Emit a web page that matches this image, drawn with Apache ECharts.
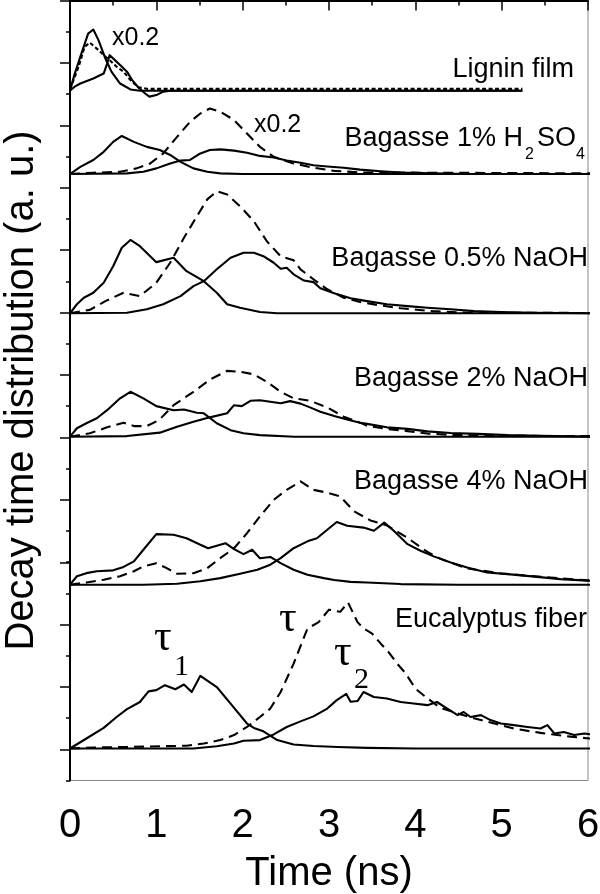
<!DOCTYPE html>
<html><head><meta charset="utf-8">
<script src="https://cdn.jsdelivr.net/npm/echarts@6/dist/echarts.min.js"></script>
<style>html,body{margin:0;padding:0;background:#fff}#c{width:600px;height:894px}</style>
</head><body><div id="c"></div>
<script>
// ---------------- data (time in ns, distribution in a.u.) ----------------
const xTicks = [0, 1, 2, 3, 4, 5, 6];
const panelNames = ['Lignin film', 'Bagasse 1% H2SO4', 'Bagasse 0.5% NaOH', 'Bagasse 2% NaOH', 'Bagasse 4% NaOH', 'Eucalyptus fiber'];

const ligninTau1 = [[0,0],[0.05,0.5],[0.12,1.09],[0.21,1.83],[0.27,1.96],[0.33,1.62],[0.41,1.03],[0.48,0.61],[0.58,0.23],[0.70,0.04],[0.81,0],[5.24,0]];
const ligninTau2 = [[0,0],[0.05,0.12],[0.12,0.23],[0.27,0.39],[0.39,0.55],[0.43,0.87],[0.46,1.14],[0.52,0.98],[0.58,0.82],[0.66,0.61],[0.72,0.34],[0.79,0.11],[0.87,-0.09],[0.92,-0.19],[1.0,-0.14],[1.08,-0.03],[1.16,0],[5.24,0]];
const ligninTau  = [[0,0.05],[0.02,0.11],[0.1,0.77],[0.17,1.41],[0.23,1.54],[0.31,1.35],[0.39,1.14],[0.46,0.98],[0.54,0.77],[0.62,0.61],[0.7,0.34],[0.79,0.11],[0.89,0.06],[5.24,0.06]];

const h2so4Tau1 = [[0,0],[0.12,0.23],[0.27,0.45],[0.39,0.71],[0.5,1.03],[0.6,1.22],[0.74,1.03],[0.89,0.87],[1.04,0.77],[1.16,0.61],[1.28,0.39],[1.43,0.18],[1.59,0.07],[1.74,0.02],[2.0,0],[6.1,0]];
const h2so4Tau2 = [[0,0],[0.66,0.02],[0.85,0.07],[1.0,0.18],[1.16,0.34],[1.28,0.43],[1.39,0.45],[1.51,0.66],[1.62,0.77],[1.74,0.79],[1.9,0.75],[2.05,0.68],[2.2,0.58],[2.36,0.53],[2.51,0.43],[2.67,0.36],[2.82,0.28],[2.98,0.24],[3.17,0.2],[3.36,0.14],[3.6,0.09],[3.83,0.05],[4.2,0.02],[4.6,0],[6.1,0]];
const h2so4Tau  = [[0,0],[0.27,0.04],[0.58,0.07],[0.77,0.18],[0.93,0.34],[1.08,0.66],[1.24,1.19],[1.39,1.67],[1.51,1.94],[1.62,2.1],[1.74,2.0],[1.9,1.73],[2.05,1.3],[2.2,0.87],[2.36,0.55],[2.59,0.34],[2.82,0.2],[3.06,0.1],[3.36,0.05],[6.1,0.02]];

const naoh05Tau1 = [[0,0],[0.08,0.29],[0.16,0.5],[0.27,0.66],[0.39,0.98],[0.5,1.51],[0.6,2.1],[0.7,2.35],[0.81,2.15],[1.0,1.64],[1.2,1.78],[1.35,1.35],[1.55,1.03],[1.7,0.66],[1.82,0.29],[1.97,0.18],[2.2,0.04],[2.4,0],[6.1,0]];
const naoh05Tau2 = [[0,0],[0.66,0.02],[0.89,0.13],[1.08,0.29],[1.28,0.55],[1.43,0.87],[1.55,1.03],[1.7,1.41],[1.86,1.78],[2.01,1.94],[2.13,1.94],[2.24,1.83],[2.36,1.62],[2.44,1.43],[2.51,1.46],[2.59,1.25],[2.71,1.05],[2.82,1.0],[2.9,0.8],[3.06,0.64],[3.25,0.48],[3.44,0.39],[3.67,0.29],[3.91,0.23],[4.14,0.18],[4.41,0.13],[4.68,0.07],[4.99,0.04],[5.38,0.02],[6.1,0]];
const naoh05Tau  = [[0,0],[0.23,0.11],[0.41,0.39],[0.62,0.66],[0.81,0.55],[1.0,0.98],[1.16,1.62],[1.32,2.42],[1.47,3.11],[1.59,3.65],[1.7,3.91],[1.82,3.81],[1.97,3.43],[2.13,2.95],[2.28,2.31],[2.44,1.83],[2.59,1.7],[2.67,1.41],[2.82,1.09],[2.98,0.77],[3.17,0.5],[3.36,0.36],[3.6,0.25],[3.83,0.16],[4.2,0.07],[4.6,0.02],[6.1,0.01]];

const naoh2Tau1 = [[0,0],[0.08,0.27],[0.19,0.43],[0.31,0.59],[0.43,0.85],[0.58,1.23],[0.7,1.44],[0.85,1.23],[1.0,0.98],[1.2,0.85],[1.32,0.87],[1.47,0.77],[1.55,0.75],[1.7,0.43],[1.86,0.21],[2.01,0.11],[2.2,0.05],[2.6,0],[6.1,0]];
const naoh2Tau2 = [[0,0],[0.66,0.02],[1.04,0.13],[1.24,0.32],[1.43,0.48],[1.62,0.62],[1.82,0.75],[1.9,1.01],[1.99,0.98],[2.09,1.15],[2.2,1.17],[2.32,1.12],[2.44,1.07],[2.55,1.14],[2.67,1.06],[2.78,0.94],[2.9,0.8],[3.06,0.66],[3.21,0.55],[3.36,0.45],[3.44,0.41],[3.67,0.3],[3.91,0.25],[4.14,0.17],[4.41,0.12],[4.72,0.09],[5.07,0.05],[5.45,0.03],[6.1,0]];
const naoh2Tau  = [[0,0],[0.23,0.11],[0.43,0.3],[0.62,0.45],[0.74,0.34],[0.89,0.34],[1.03,0.53],[1.2,1.01],[1.43,1.44],[1.62,1.83],[1.82,2.11],[1.97,2.08],[2.13,2.0],[2.28,1.76],[2.44,1.44],[2.59,1.23],[2.78,1.15],[2.98,0.94],[3.17,0.64],[3.36,0.45],[3.44,0.35],[3.67,0.25],[3.91,0.18],[4.14,0.1],[4.41,0.06],[4.8,0.03],[6.1,0.02]];

const naoh4Tau1 = [[0,0],[0.08,0.27],[0.19,0.37],[0.31,0.43],[0.5,0.46],[0.62,0.57],[0.74,0.75],[0.85,1.12],[1.0,1.62],[1.2,1.6],[1.35,1.49],[1.51,1.28],[1.6,1.17],[1.7,1.25],[1.8,1.33],[1.9,1.14],[2.01,0.98],[2.11,1.12],[2.2,0.85],[2.32,0.89],[2.44,0.69],[2.59,0.48],[2.75,0.32],[2.94,0.21],[3.06,0.15],[3.25,0.09],[3.44,0.07],[3.83,0.02],[4.5,0],[6.1,0]];
const naoh4Tau2 = [[0,0],[0.85,0],[1.24,0.03],[1.51,0.11],[1.74,0.21],[1.97,0.35],[2.17,0.48],[2.32,0.64],[2.44,0.85],[2.59,1.17],[2.75,1.39],[2.86,1.49],[2.98,1.76],[3.09,2.01],[3.21,1.89],[3.4,1.83],[3.52,1.73],[3.64,1.99],[3.75,1.73],[3.91,1.3],[4.06,1.09],[4.22,0.9],[4.41,0.71],[4.6,0.55],[4.83,0.39],[5.07,0.34],[5.38,0.26],[5.68,0.18],[5.99,0.13],[6.1,0.12]];
const naoh4Tau  = [[0,0],[0.19,0.07],[0.39,0.16],[0.58,0.27],[0.74,0.43],[0.85,0.59],[1.0,0.69],[1.12,0.53],[1.24,0.35],[1.43,0.37],[1.59,0.53],[1.74,0.85],[1.9,1.17],[2.05,1.65],[2.2,2.19],[2.36,2.72],[2.51,3.04],[2.67,3.31],[2.82,3.04],[2.98,2.95],[3.13,2.83],[3.29,2.35],[3.48,2.06],[3.67,1.9],[3.91,1.5],[4.14,1.05],[4.3,0.82],[4.6,0.52],[5.0,0.36],[5.5,0.24],[6.1,0.12]];

const eucTau1 = [[0,0],[0.19,0.32],[0.39,0.66],[0.54,1.01],[0.66,1.26],[0.81,1.49],[0.91,1.83],[1.0,1.87],[1.1,2.03],[1.22,1.9],[1.32,2.05],[1.41,1.81],[1.51,2.33],[1.7,1.97],[1.86,1.44],[2.05,0.8],[2.13,0.66],[2.24,0.55],[2.4,0.27],[2.59,0.13],[2.82,0.08],[3.1,0.05],[3.44,0.02],[4.0,0],[6.1,0]];
const eucTau2 = [[0,0],[1.43,0],[1.7,0.07],[1.9,0.16],[2.01,0.25],[2.2,0.27],[2.36,0.45],[2.51,0.69],[2.67,0.87],[2.82,1.03],[2.98,1.28],[3.09,1.55],[3.2,1.75],[3.25,1.5],[3.33,1.52],[3.4,1.81],[3.52,1.65],[3.67,1.6],[3.83,1.49],[3.98,1.44],[4.14,1.39],[4.25,1.49],[4.37,1.28],[4.49,1.07],[4.56,1.17],[4.64,1.01],[4.76,1.07],[4.87,0.91],[4.99,0.8],[5.14,0.75],[5.3,0.69],[5.45,0.64],[5.53,0.75],[5.61,0.48],[5.72,0.53],[5.84,0.43],[5.96,0.48],[6.1,0.43]];
const eucTau  = [[0,0],[0.27,0.03],[0.66,0.05],[1.04,0.07],[1.35,0.09],[1.55,0.16],[1.74,0.27],[1.9,0.43],[2.05,0.69],[2.2,1.01],[2.32,1.28],[2.44,1.81],[2.59,2.72],[2.75,3.84],[2.88,4.05],[3.0,4.45],[3.13,4.38],[3.22,4.68],[3.33,4.05],[3.4,3.85],[3.5,3.68],[3.6,3.36],[3.69,3.09],[3.79,2.72],[3.89,2.4],[4.0,1.92],[4.12,1.65],[4.29,1.3],[4.52,1.1],[4.64,1.0],[4.99,0.75],[5.14,0.64],[5.45,0.5],[5.8,0.38],[6.1,0.3]];

// ---------------- layout ----------------
const UNIT = 31.2;        // px per a.u. (one left-axis tick)
const L = 70, R = 12;
const panels = [
  {t1: ligninTau1, t2: ligninTau2, t: ligninTau, base: 90.7,  max: 2.5, dash: [4, 2.5]},
  {t1: h2so4Tau1,  t2: h2so4Tau2,  t: h2so4Tau,  base: 174,   max: 5,   dash: [10, 6]},
  {t1: naoh05Tau1, t2: naoh05Tau2, t: naoh05Tau, base: 313.3, max: 5,   dash: [10, 6]},
  {t1: naoh2Tau1,  t2: naoh2Tau2,  t: naoh2Tau,  base: 436.7, max: 5,   dash: [10, 6]},
  {t1: naoh4Tau1,  t2: naoh4Tau2,  t: naoh4Tau,  base: 584.7, max: 5,   dash: [10, 6]},
  {t1: eucTau1,    t2: eucTau2,    t: eucTau,    base: 748.5, max: 5,   dash: [10, 6]}
];

const grids = [
  {left: L, right: R, top: 0.5, height: 780, show: true, borderColor: '#8a8a8a', borderWidth: 1, outerBoundsMode: 'none'},
  {left: L, right: R, top: 0.5, height: 749, outerBoundsMode: 'none'}
];
const xAxes = [
  {gridIndex: 0, type: 'value', min: xTicks[0], max: xTicks[xTicks.length - 1], interval: 1,
   axisLine: {show: true, lineStyle: {color: '#000', width: 2}},
   axisTick: {show: true, inside: false, length: 10, lineStyle: {color: '#000', width: 1.5}},
   minorTick: {show: true, splitNumber: 2, length: 5, lineStyle: {color: '#000', width: 1.5}},
   splitLine: {show: false},
   axisLabel: {show: true, margin: 25, fontSize: 40, fontFamily: 'Liberation Sans', color: '#000'},
   name: 'Time (ns)', nameLocation: 'middle', nameGap: 73,
   nameTextStyle: {fontSize: 40, fontFamily: 'Liberation Sans', color: '#000'}},
  {gridIndex: 1, type: 'value', min: 0, max: 6, show: false}
];
const yAxes = [
  {gridIndex: 0, type: 'value', inverse: true, min: 0, max: 25, interval: 1,
   axisLine: {show: true, lineStyle: {color: '#000', width: 2}},
   axisTick: {show: true, inside: false, length: 4, lineStyle: {color: '#000', width: 1.5}},
   axisLabel: {show: false}, splitLine: {show: false},
   name: 'Decay time distribution (a. u.)', nameLocation: 'middle', nameGap: 28,
   nameTextStyle: {fontSize: 40, fontFamily: 'Liberation Sans', color: '#000'}},
  {gridIndex: 1, type: 'value', inverse: true, min: 0, max: 24, interval: 2,
   axisLine: {show: false},
   axisTick: {show: true, inside: false, length: 10, lineStyle: {color: '#000', width: 1.5}},
   axisLabel: {show: false}, splitLine: {show: false}}
];
const series = [];
panels.forEach((p, i) => {
  const gi = i + 2;
  grids.push({left: L, right: R, top: p.base - p.max * UNIT, height: p.max * UNIT, outerBoundsMode: 'none'});
  xAxes.push({gridIndex: gi, type: 'value', min: 0, max: 6, show: false});
  yAxes.push({gridIndex: gi, type: 'value', min: 0, max: p.max, show: false});
  const mk = (data, name, dashed) => ({
    type: 'line', name: name, xAxisIndex: gi, yAxisIndex: gi, data: data,
    showSymbol: false, symbol: 'none', clip: false, silent: true,
    lineStyle: {color: '#000', width: 2.1, type: dashed ? p.dash : 'solid', cap: 'butt', join: 'round'}
  });
  series.push(mk(p.t, panelNames[i] + ' tau', true));
  series.push(mk(p.t1, panelNames[i] + ' tau1', false));
  series.push(mk(p.t2, panelNames[i] + ' tau2', false));
});

const SANS = 'Liberation Sans', SERIF = 'Liberation Serif';
function txt(text, x, y, size, align, family) {
  return {type: 'text', x: x, y: y, silent: true,
    style: {text: text, fontSize: size, fontFamily: family || SANS, fill: '#000',
            align: align, verticalAlign: 'middle', textAlign: align, textVerticalAlign: 'middle'}};
}
const graphics = [
  txt(panelNames[0], 574, 70, 27, 'right'),
  txt('Bagasse 1% H', 523, 139, 27, 'right'),
  txt('2', 525, 155, 16, 'left'),
  txt('SO', 537, 139, 27, 'left'),
  txt('4', 576, 155, 16, 'left'),
  txt(panelNames[2], 588, 259, 27, 'right'),
  txt(panelNames[3], 588, 379, 27, 'right'),
  txt(panelNames[4], 588, 482, 27, 'right'),
  txt(panelNames[5], 587, 620, 27, 'right'),
  txt('x0.2', 112, 38.5, 25, 'left'),
  txt('x0.2', 254, 125.5, 25, 'left'),
  txt('τ', 154, 638, 44, 'left', SERIF),
  txt('1', 174, 667, 30, 'left', SERIF),
  txt('τ', 279, 619, 44, 'left', SERIF),
  txt('τ', 334, 653, 44, 'left', SERIF),
  txt('2', 354, 680, 30, 'left', SERIF)
];

const chart = echarts.init(document.getElementById('c'), null, {renderer: 'canvas'});
chart.setOption({
  backgroundColor: '#fff',
  animation: false,
  grid: grids, xAxis: xAxes, yAxis: yAxes, series: series,
  graphic: {elements: graphics}
});
</script></body></html>
